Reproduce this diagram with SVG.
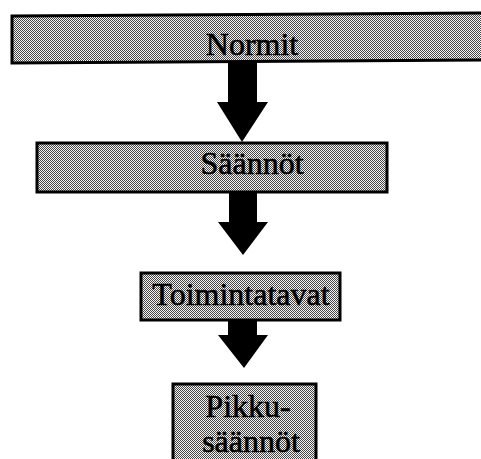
<svg xmlns="http://www.w3.org/2000/svg" width="481" height="459" viewBox="0 0 481 459">
  <defs>
    <!-- dithered gray fill -->
    <pattern id="dither" width="2" height="2" patternUnits="userSpaceOnUse">
      <rect width="2" height="2" fill="#f4f4f4"/>
      <rect x="0" y="0" width="1" height="1" fill="#474747"/>
      <rect x="1" y="1" width="1" height="1" fill="#474747"/>
    </pattern>
  </defs>
  <style>
    .box { fill: url(#dither); stroke: #000; stroke-width: 3; }
    .label { font-size: 32px; fill: #000; stroke: #000; stroke-width: 0.6; text-anchor: middle; }
    .arrow { fill: #000; }
  </style>
  <rect width="481" height="459" fill="#fff"/>

  <g id="connectors">
    <polygon class="arrow" points="228,61 257,61 257,102 268,102 242,142 217,102 228,102"/>
    <polygon class="arrow" points="229,191 257,191 257,222 268,222 243,255 218,222 229,222"/>
    <polygon class="arrow" points="228,319 257,319 257,335 268,335 244,368 218,335 228,335"/>
  </g>

  <g font-family="'Liberation Serif', 'DejaVu Serif', 'Times New Roman', serif">
    <g id="node-normit">
      <polygon class="box" points="12,16 484,13 484,60 12,63"/>
      <text class="label" x="252" y="55">Normit</text>
    </g>

    <g id="node-saannot">
      <rect class="box" x="37" y="143" width="350" height="49"/>
      <text class="label" x="252" y="174">Säännöt</text>
    </g>

    <g id="node-toimintatavat">
      <rect class="box" x="141" y="273" width="199" height="47"/>
      <text class="label" x="241" y="305">Toimintatavat</text>
    </g>

    <g id="node-pikkusaannot">
      <rect class="box" x="173" y="384" width="143" height="80" stroke-width="2.5"/>
      <text class="label" x="248" y="417">Pikku-</text>
      <text class="label" x="251" y="452">säännöt</text>
    </g>
  </g>
</svg>
